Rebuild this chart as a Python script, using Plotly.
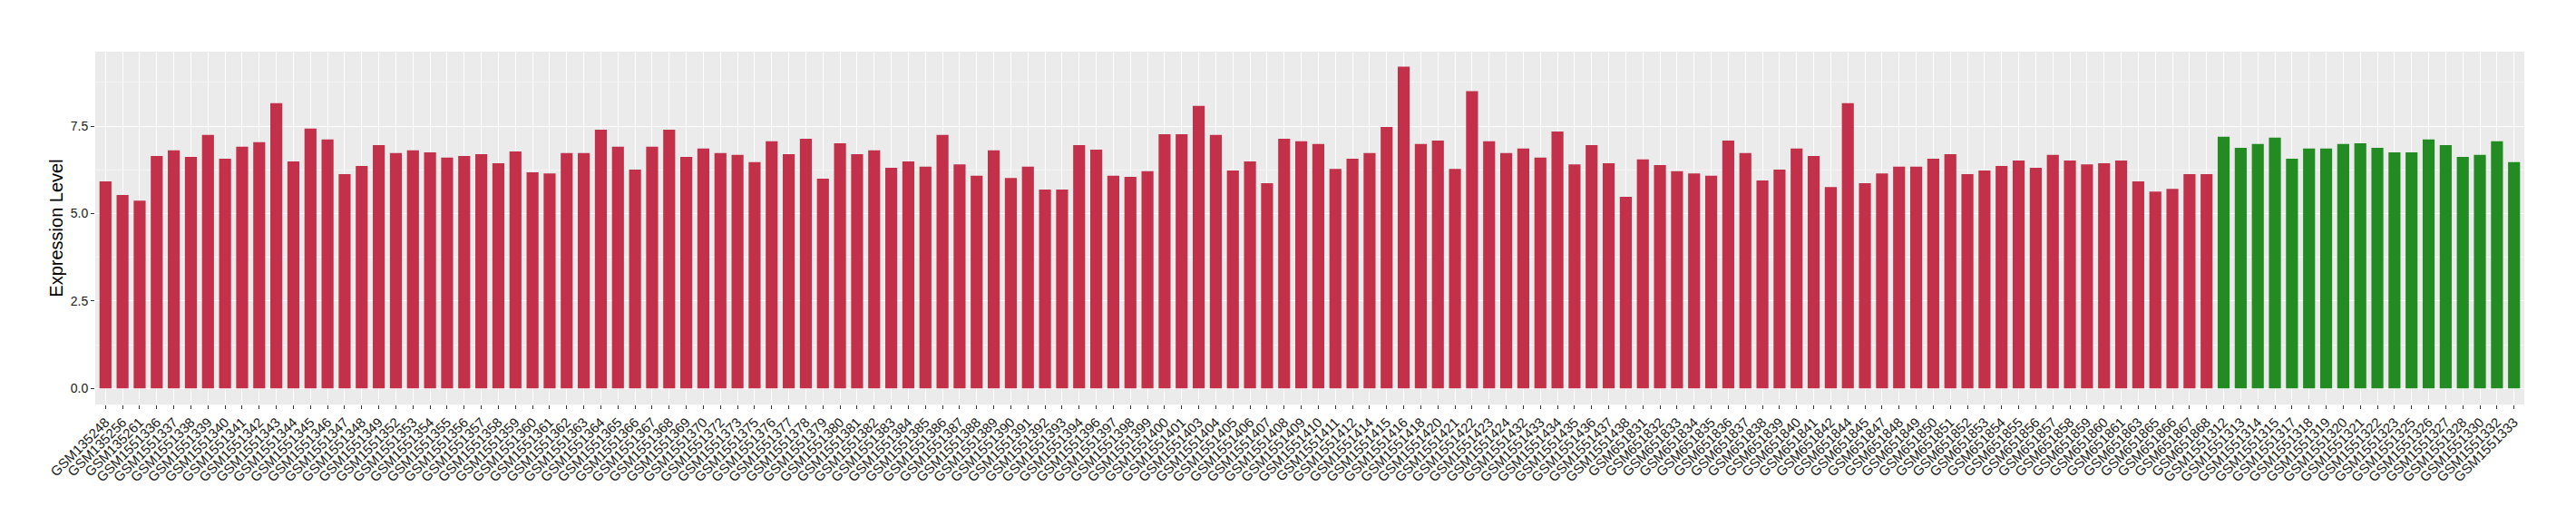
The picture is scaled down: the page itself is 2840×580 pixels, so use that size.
import plotly.graph_objects as go

red_samples = (
    ["GSM135248", "GSM135256", "GSM135261"]
    + ["GSM%d" % n for n in range(1551336, 1551350)]
    + ["GSM%d" % n for n in range(1551352, 1551371)]
    + ["GSM1551372", "GSM1551373"]
    + ["GSM%d" % n for n in range(1551375, 1551395)]
    + ["GSM%d" % n for n in range(1551396, 1551402)]
    + ["GSM%d" % n for n in range(1551403, 1551413)]
    + ["GSM1551414", "GSM1551415", "GSM1551416", "GSM1551418"]
    + ["GSM%d" % n for n in range(1551420, 1551425)]
    + ["GSM%d" % n for n in range(1551432, 1551439)]
    + ["GSM%d" % n for n in range(651831, 651843)]
    + ["GSM651844", "GSM651845"]
    + ["GSM%d" % n for n in range(651847, 651862)]
    + ["GSM651863", "GSM651865", "GSM651866", "GSM651867", "GSM651868"]
)

green_samples = [
    "GSM1551312", "GSM1551313", "GSM1551314", "GSM1551315", "GSM1551317",
    "GSM1551318", "GSM1551319", "GSM1551320", "GSM1551321", "GSM1551322",
    "GSM1551323", "GSM1551325", "GSM1551326", "GSM1551327", "GSM1551328",
    "GSM1551330", "GSM1551332", "GSM1551333",
]

red_values = [
    5.92, 5.53, 5.37, 6.65, 6.81, 6.62, 7.25, 6.57, 6.91, 7.04,
    8.16, 6.49, 7.43, 7.12, 6.13, 6.36, 6.96, 6.73, 6.81, 6.75,
    6.60, 6.65, 6.70, 6.44, 6.78, 6.18, 6.15, 6.73, 6.73, 7.40,
    6.91, 6.26, 6.91, 7.40, 6.62, 6.86, 6.73, 6.68, 6.47, 7.07,
    6.70, 7.14, 6.00, 7.01, 6.70, 6.81, 6.31, 6.49, 6.34, 7.25,
    6.41, 6.08, 6.81, 6.02, 6.34, 5.69, 5.69, 6.96, 6.83, 6.08,
    6.05, 6.21, 7.27, 7.27, 8.08, 7.25, 6.23, 6.49, 5.87, 7.14,
    7.07, 6.99, 6.28, 6.57, 6.73, 7.48, 9.20, 6.99, 7.09, 6.28,
    8.50, 7.07, 6.73, 6.86, 6.60, 7.35, 6.41, 6.96, 6.44, 5.48,
    6.55, 6.39, 6.21, 6.15, 6.08, 7.09, 6.73, 5.95, 6.26, 6.86,
    6.65, 5.76, 8.16, 5.87, 6.15, 6.34, 6.34, 6.57, 6.70, 6.13,
    6.23, 6.36, 6.52, 6.31, 6.68, 6.52, 6.41, 6.44, 6.52, 5.92,
    5.63, 5.71, 6.13, 6.13,
]

green_values = [
    7.20, 6.88, 6.99, 7.17, 6.57, 6.86, 6.86, 6.99, 7.01, 6.88,
    6.75, 6.75, 7.12, 6.96, 6.62, 6.68, 7.07, 6.47,
]

y_ticks = [0.0, 2.5, 5.0, 7.5]
y_tick_text = ["0.0", "2.5", "5.0", "7.5"]

RED = "#C3304A"
GREEN = "#228B22"
FONT = "Liberation Sans, Arial, sans-serif"

all_samples = red_samples + green_samples

fig = go.Figure()
fig.add_trace(go.Bar(x=red_samples, y=red_values, marker=dict(color=RED, line=dict(width=0)),
                     width=0.7, showlegend=False))
fig.add_trace(go.Bar(x=green_samples, y=green_values, marker=dict(color=GREEN, line=dict(width=0)),
                     width=0.7, showlegend=False))

fig.update_layout(
    width=2840, height=580,
    margin=dict(l=105, r=57, t=57, b=134, autoexpand=False),
    paper_bgcolor="white",
    plot_bgcolor="#EBEBEB",
    font=dict(family=FONT, color="black"),
    bargap=0.3,
)
fig.update_xaxes(
    type="category",
    categoryorder="array", categoryarray=all_samples,
    range=[-0.6, len(all_samples) - 1 + 0.6],
    tickmode="array", tickvals=all_samples, ticktext=all_samples,
    tickangle=-45,
    tickfont=dict(size=15, color="#1A1A1A", family=FONT),
    ticks="outside", ticklen=4, tickcolor="#333333", tickwidth=1,
    showgrid=True, gridcolor="white", gridwidth=1.1,
    showline=False, zeroline=False,
)
fig.update_yaxes(
    range=[-0.46, 9.63],
    tickmode="array", tickvals=y_ticks, ticktext=y_tick_text,
    tickfont=dict(size=14, color="#1A1A1A", family=FONT),
    ticks="outside", ticklen=4, tickcolor="#333333", tickwidth=1,
    showgrid=True, gridcolor="white", gridwidth=1.1,
    minor=dict(tickmode="linear", tick0=0, dtick=1.25, showgrid=True,
               gridcolor="#F5F5F5", gridwidth=0.6, ticks=""),
    zeroline=False, showline=False,
    title=dict(text="Expression Level", font=dict(size=20, color="black", family=FONT), standoff=2),
)

fig.write_html(
    "out.html",
    config={"displayModeBar": False},
    post_script="document.body.style.margin='0';document.body.style.overflow='hidden';",
)
